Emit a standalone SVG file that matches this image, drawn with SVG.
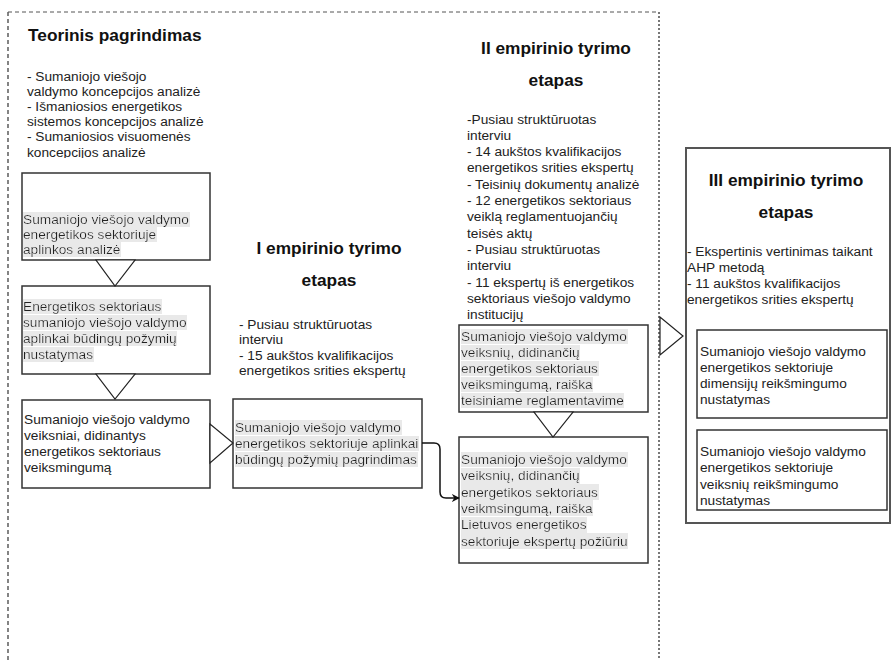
<svg xmlns="http://www.w3.org/2000/svg" width="894" height="660" viewBox="0 0 894 660">
  <defs>
    <style>
      .t { font-family: "Liberation Sans", Arial, sans-serif; font-size: 13.7px; fill: #222; }
      .h { font-family: "Liberation Sans", Arial, sans-serif; font-size: 17.3px; font-weight: bold; fill: #111; }
      .mid { text-anchor: middle; }
      .hl { filter: url(#hlbg); }
      .box { fill: #fff; stroke: #333; stroke-width: 1.5; }
      .outer { fill: #fff; stroke: #555; stroke-width: 2; }
      .tri { fill: #fff; stroke: #222; stroke-width: 1.2; stroke-linejoin: miter; }
      .flow { fill: none; stroke: #111; stroke-width: 1.5; }
    </style>
    <!-- light grey band behind a single text line (fills the text's bounding box) -->
    <filter id="hlbg" x="0" y="0" width="1" height="1">
      <feFlood flood-color="#e9e9e9"/>
      <feMerge>
        <feMergeNode/>
        <feMergeNode in="SourceGraphic"/>
      </feMerge>
    </filter>
    <marker id="arrow" viewBox="0 0 10 10" refX="9" refY="5" markerWidth="8" markerHeight="8" markerUnits="userSpaceOnUse" orient="auto">
      <path d="M0,0 L10,5 L0,10 L3,5 Z" fill="#111"/>
    </marker>
    <clipPath id="theoryClip">
      <rect x="0" y="60" width="230" height="98"/>
    </clipPath>
  </defs>

  <rect width="894" height="660" fill="#fff"/>

  <!-- stage frame: dashed left/top, dotted right -->
  <g id="frame">
    <line x1="8" y1="12" x2="8" y2="660" stroke="#333" stroke-width="1.2" stroke-dasharray="4 3"/>
    <line x1="8" y1="12" x2="659" y2="12" stroke="#555" stroke-width="1" stroke-dasharray="4 3"/>
    <line x1="659" y1="12" x2="659" y2="660" stroke="#777" stroke-width="2" stroke-dasharray="2 2"/>
  </g>

  <!-- theoretical basis -->
  <g id="theory">
    <text class="h" x="28" y="41">Teorinis pagrindimas</text>
    <g clip-path="url(#theoryClip)">
      <text class="t" x="27" y="81">- Sumaniojo viešojo</text>
      <text class="t" x="27" y="96">valdymo koncepcijos analizė</text>
      <text class="t" x="27" y="111">- Išmaniosios energetikos</text>
      <text class="t" x="27" y="126">sistemos koncepcijos analizė</text>
      <text class="t" x="27" y="141">- Sumaniosios visuomenės</text>
      <text class="t" x="27" y="157">koncepcijos analizė</text>
    </g>
  </g>

  <g id="node-aplinkos-analize">
    <rect class="box" x="22" y="173" width="188" height="87"/>
    <text class="t hl" x="23" y="224">Sumaniojo viešojo valdymo</text>
    <text class="t hl" x="23" y="239">energetikos sektoriuje</text>
    <text class="t hl" x="23" y="254">aplinkos analizė</text>
  </g>

  <g id="node-pozymiu-nustatymas">
    <rect class="box" x="22" y="286" width="188" height="88"/>
    <text class="t hl" x="23" y="311">Energetikos sektoriaus</text>
    <text class="t hl" x="23" y="327">sumaniojo viešojo valdymo</text>
    <text class="t hl" x="23" y="343">aplinkai būdingų požymių</text>
    <text class="t hl" x="23" y="359">nustatymas</text>
  </g>

  <g id="node-veiksniai">
    <rect class="box" x="22" y="400" width="188" height="88"/>
    <text class="t" x="24" y="424">Sumaniojo viešojo valdymo</text>
    <text class="t" x="24" y="440">veiksniai, didinantys</text>
    <text class="t" x="24" y="456">energetikos sektoriaus</text>
    <text class="t" x="24" y="472">veiksmingumą</text>
  </g>

  <!-- stage I -->
  <g id="stage-1">
    <text class="h mid" x="329" y="254">I empirinio tyrimo</text>
    <text class="h mid" x="329" y="286">etapas</text>
    <text class="t" x="239" y="329">- Pusiau struktūruotas</text>
    <text class="t" x="239" y="344">interviu</text>
    <text class="t" x="239" y="360">- 15 aukštos kvalifikacijos</text>
    <text class="t" x="239" y="375">energetikos srities ekspertų</text>
  </g>

  <g id="node-pozymiu-pagrindimas">
    <rect class="box" x="233" y="399" width="189" height="89"/>
    <text class="t hl" x="235" y="432">Sumaniojo viešojo valdymo</text>
    <text class="t hl" x="235" y="448">energetikos sektoriuje aplinkai</text>
    <text class="t hl" x="235" y="464">būdingų požymių pagrindimas</text>
  </g>

  <!-- stage II -->
  <g id="stage-2">
    <text class="h mid" x="556" y="54">II empirinio tyrimo</text>
    <text class="h mid" x="556" y="86">etapas</text>
    <text class="t" x="467" y="123.5">-Pusiau struktūruotas</text>
    <text class="t" x="467" y="139.8">interviu</text>
    <text class="t" x="467" y="156.1">-  14 aukštos kvalifikacijos</text>
    <text class="t" x="467" y="172.4">energetikos srities ekspertų</text>
    <text class="t" x="467" y="188.7">- Teisinių dokumentų analizė</text>
    <text class="t" x="467" y="205">- 12 energetikos sektoriaus</text>
    <text class="t" x="467" y="221.3">veiklą reglamentuojančių</text>
    <text class="t" x="467" y="237.6">teisės aktų</text>
    <text class="t" x="467" y="253.9">- Pusiau struktūruotas</text>
    <text class="t" x="467" y="270.2">interviu</text>
    <text class="t" x="467" y="286.5">- 11 ekspertų iš energetikos</text>
    <text class="t" x="467" y="302.8">sektoriaus viešojo valdymo</text>
    <text class="t" x="467" y="319.1">institucijų</text>
  </g>

  <g id="node-teisinis-reglamentavimas">
    <rect class="box" x="459" y="325" width="189" height="87"/>
    <text class="t hl" x="461" y="341">Sumaniojo viešojo valdymo</text>
    <text class="t hl" x="461" y="357">veiksnių, didinančių</text>
    <text class="t hl" x="461" y="373">energetikos sektoriaus</text>
    <text class="t hl" x="461" y="389">veiksmingumą, raiška</text>
    <text class="t hl" x="461" y="405">teisiniame reglamentavime</text>
  </g>

  <g id="node-ekspertu-poziuris">
    <rect class="box" x="459" y="437" width="189" height="126"/>
    <text class="t hl" x="461" y="464">Sumaniojo viešojo valdymo</text>
    <text class="t hl" x="461" y="480.3">veiksnių, didinančių</text>
    <text class="t hl" x="461" y="496.6">energetikos sektoriaus</text>
    <text class="t hl" x="461" y="512.9">veikmsingumą, raiška</text>
    <text class="t hl" x="461" y="529.2">Lietuvos energetikos</text>
    <text class="t hl" x="461" y="545.5">sektoriuje ekspertų požiūriu</text>
  </g>

  <!-- stage III -->
  <g id="stage-3">
    <rect class="outer" x="686" y="148" width="204" height="375"/>
    <text class="h mid" x="786" y="186">III empirinio tyrimo</text>
    <text class="h mid" x="786" y="218">etapas</text>
    <text class="t" x="687" y="256">- Ekspertinis vertinimas taikant</text>
    <text class="t" x="687" y="272">AHP metodą</text>
    <text class="t" x="687" y="288">- 11 aukštos kvalifikacijos</text>
    <text class="t" x="687" y="304">energetikos srities ekspertų</text>
  </g>

  <g id="node-dimensiju-reiksmingumas">
    <rect class="box" x="697" y="330" width="190" height="88"/>
    <text class="t" x="700" y="356">Sumaniojo viešojo valdymo</text>
    <text class="t" x="700" y="372">energetikos sektoriuje</text>
    <text class="t" x="700" y="388">dimensijų reikšmingumo</text>
    <text class="t" x="700" y="404">nustatymas</text>
  </g>

  <g id="node-veiksniu-reiksmingumas">
    <rect class="box" x="697" y="430" width="190" height="80"/>
    <text class="t" x="700" y="456">Sumaniojo viešojo valdymo</text>
    <text class="t" x="700" y="472">energetikos sektoriuje</text>
    <text class="t" x="700" y="489">veiksnių reikšmingumo</text>
    <text class="t" x="700" y="505">nustatymas</text>
  </g>

  <!-- connectors -->
  <g id="connectors">
    <polygon class="tri" points="96,260 135,260 115,286"/>
    <polygon class="tri" points="96,374 135,374 115,399"/>
    <polygon class="tri" points="210,424 210,463 233,443"/>
    <polygon class="tri" points="534,412 573,412 553,437"/>
    <polygon class="tri" points="660,317 660,355 683,336"/>
    <path class="flow" d="M422,443 H434 Q440,443 440,449 V492 Q440,498 446,498 H459" marker-end="url(#arrow)"/>
  </g>
</svg>
